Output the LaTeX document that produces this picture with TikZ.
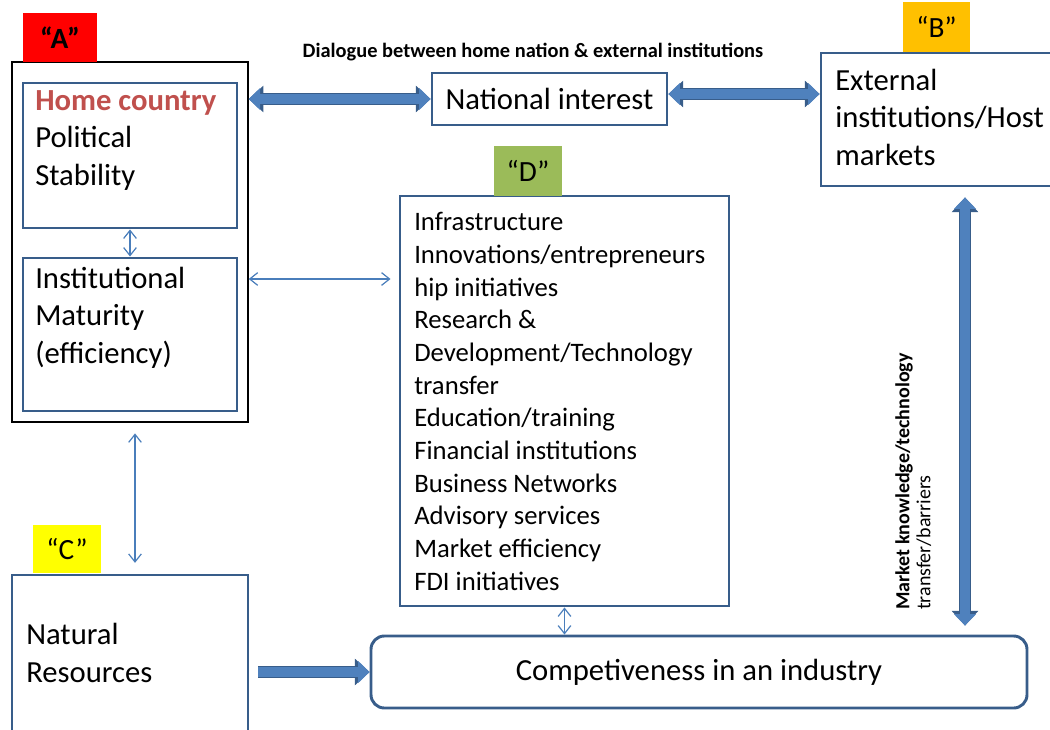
\documentclass[tikz,border=0pt]{standalone}
\usepackage{fontspec}
\setmainfont{Carlito}
\usetikzlibrary{arrows.meta,fit,calc}

\tikzset{
  bluebox/.style={draw={rgb, 255:red, 56; green, 93; blue, 138}, line width=2.2pt, inner sep=0pt},
  blackbox/.style={draw=black, line width=1.1pt, inner sep=0pt},
  tagbox/.style={draw=none, inner sep=0pt},
  tagtext/.style={inner sep=0pt, font=\fontsize{22}{26}\selectfont},
  boxtext/.style={font=\fontsize{23}{28}\selectfont, align=left, inner sep=0pt},
  listtext/.style={font=\fontsize{20}{24.5}\selectfont, align=left, inner sep=0pt},
  fatboth/.style={draw={rgb, 255:red, 79; green, 129; blue, 189}, line width=7.2pt,
    {Triangle[width=16.5pt,length=8.5pt,line width=0pt]}-{Triangle[width=16.5pt,length=8.5pt,line width=0pt]},
    preaction={draw={rgb, 255:red, 56; green, 93; blue, 138}, line width=9.4pt,
    {Triangle[width=20pt,length=11pt,line width=0pt]}-{Triangle[width=20pt,length=11pt,line width=0pt]}}},
  fatone/.style={draw={rgb, 255:red, 79; green, 129; blue, 189}, line width=7.2pt,
    -{Triangle[width=16.5pt,length=8.5pt,line width=0pt]},
    preaction={draw={rgb, 255:red, 56; green, 93; blue, 138}, line width=9.4pt,
    -{Triangle[width=20pt,length=11pt,line width=0pt]}}},
  thinboth/.style={draw={rgb, 255:red, 74; green, 126; blue, 187}, line width=0.9pt,
    {Straight Barb[length=6pt,width=9.5pt]}-{Straight Barb[length=6pt,width=9.5pt]}}
}

\begin{document}
\begin{tikzpicture}[x=0.75pt,y=0.75pt,yscale=-1,xscale=1]
\useasboundingbox (0,0) rectangle (1050,729);

%Shape: Rectangle [home block]
\node[blackbox, fit={(12,62) (248,422)}] (outerA) {};
\node[bluebox, fit={(23,83) (237,228)}] (home) {};
\node[bluebox, fit={(23,258) (237,411)}] (inst) {};
%Shape: Rectangle [national interest]
\node[bluebox, fit={(432,73) (667,125)}] (national) {};
%Shape: Rectangle [external]
\node[bluebox, fit={(821,53) (1070,186)}] (external) {};
%Shape: Rectangle [D list]
\node[bluebox, fit={(400,196) (729,606)}] (dbox) {};
%Shape: Rectangle [natural]
\node[bluebox, fit={(12,575) (248,740)}] (natural) {};
%Shape: Rounded Rect [competitiveness]
\node[bluebox, rounded corners=10pt, fit={(371,636) (1027,708)}] (comp) {};

%Shape: Rectangle [tags]
\node[tagbox, fill={rgb, 255:red, 255; green, 0; blue, 0}, fit={(23,13) (97,62)}] (tagA) {};
\node[tagbox, fill={rgb, 255:red, 255; green, 192; blue, 0}, fit={(903,2) (970,52)}] (tagB) {};
\node[tagbox, fill={rgb, 255:red, 255; green, 255; blue, 0}, fit={(33,525) (101,573)}] (tagC) {};
\node[tagbox, fill={rgb, 255:red, 155; green, 187; blue, 89}, fit={(494,146) (562,196)}] (tagD) {};
\node[tagtext] at (tagA.center) {\textbf{“A”}};
\node[tagtext] at (tagB.center) {“B”};
\node[tagtext] at (tagC.center) {“C”};
\node[tagtext] at (tagD.center) {“D”};

%Text
\node[boxtext] at (national.center) {National interest};
\node[boxtext] at (comp.center) {Competiveness in an industry};
\node[boxtext, anchor=base west] (hometxt) at (35,185) {\textcolor[RGB]{192,80,77}{\textbf{Home country}}\\Political\\Stability};
\node[boxtext, anchor=base west] (insttxt) at (35,363) {Institutional\\Maturity\\(efficiency)};
\node[boxtext, anchor=base west] (exttxt) at (835,165) {External\\institutions/Host\\markets};
\node[boxtext, anchor=base west] (nattxt) at (26,682) {Natural\\Resources};
\node[listtext, anchor=base west] (dlist) at (414,590) {Infrastructure\\Innovations/entrepreneurs\\hip initiatives\\Research \&\\Development/Technology\\transfer\\Education/training\\Financial institutions\\Business Networks\\Advisory services\\Market efficiency\\FDI initiatives};
\node[anchor=base, inner sep=0pt, font=\fontsize{15.3}{17}\selectfont\bfseries] (dialogue) at (533,57) {Dialogue between home nation \& external institutions};
\node[rotate=90, anchor=north west, align=left, inner sep=0pt, font=\fontsize{15}{15.75}\selectfont] (mktlbl) at (895,610) {\textbf{Market knowledge/technology}\\transfer/barriers};

%Straight Lines [helpers]
\coordinate (linkrow) at (0,279);
\coordinate (linkcol) at (135,0);
\coordinate (mktcol) at (965,0);
\coordinate (natrow) at ([yshift=-3.75pt]national.east);

%Straight Lines [thick arrows]
\draw[fatboth] (outerA.east |- national.west) -- (national.west);
\draw[fatboth] (natrow) -- (natrow -| external.west);
\draw[fatboth, shorten <=7.5pt, shorten >=6.75pt] (external.south -| mktcol) -- (comp.north -| mktcol);
\draw[fatone, shorten <=6.75pt] (natural.east |- comp.west) -- (comp.west);

%Straight Lines [thin arrows]
\draw[thinboth] (home.south) -- (inst.north);
\draw[thinboth, shorten >=6pt] (outerA.east |- linkrow) -- (linkrow -| dbox.west);
\draw[thinboth, shorten <=8pt, shorten >=8pt] (outerA.south -| linkcol) -- (natural.north -| linkcol);
\draw[thinboth] (dbox.south) -- (comp.north -| dbox.south);

\end{tikzpicture}
\end{document}
